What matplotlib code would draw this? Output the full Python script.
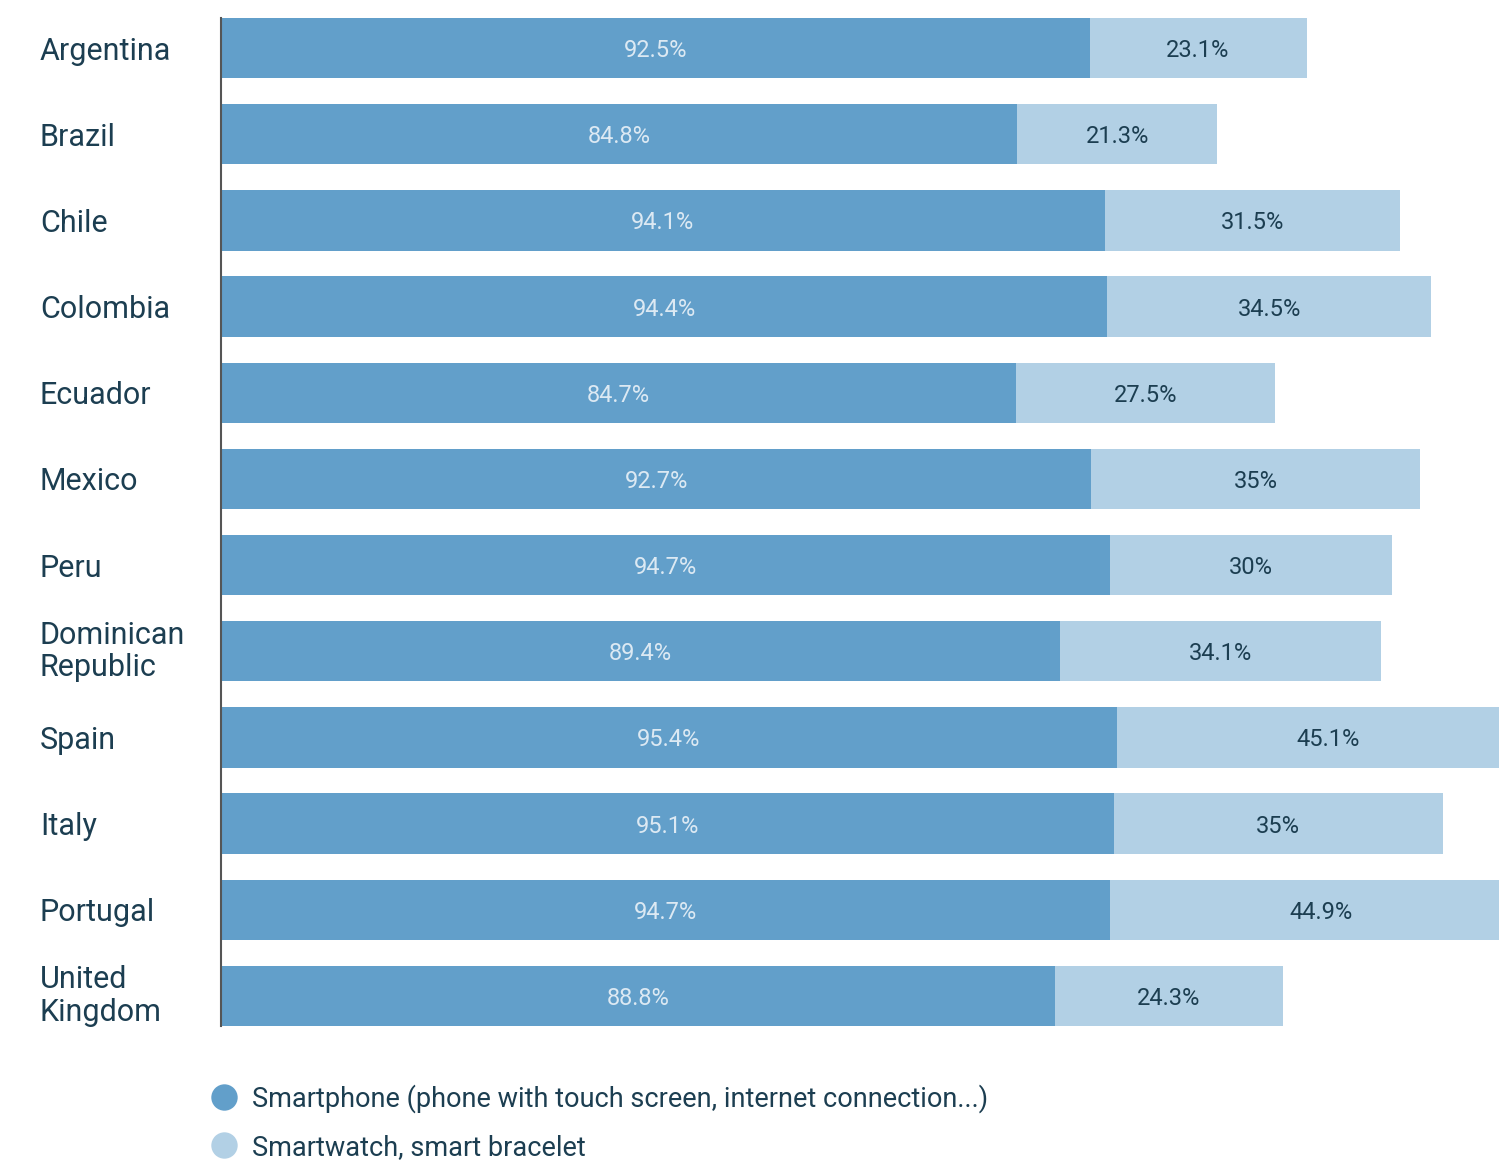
import matplotlib.pyplot as plt
import matplotlib.transforms as mtransforms
from matplotlib.lines import Line2D

countries = ["Argentina", "Brazil", "Chile", "Colombia", "Ecuador", "Mexico", "Peru",
             "Dominican\nRepublic", "Spain", "Italy", "Portugal", "United\nKingdom"]
smartphone = [92.5, 84.8, 94.1, 94.4, 84.7, 92.7, 94.7, 89.4, 95.4, 95.1, 94.7, 88.8]
smartwatch = [23.1, 21.3, 31.5, 34.5, 27.5, 35, 30, 34.1, 45.1, 35, 44.9, 24.3]
series_names = ["Smartphone (phone with touch screen, internet connection...)",
                "Smartwatch, smart bracelet"]

DARK = "#629fca"
LIGHT = "#b2d0e5"
TEXT = "#1c3e51"

plt.rcParams["font.family"] = ["Roboto", "DejaVu Sans"]

fig = plt.figure(figsize=(14.99, 11.62), dpi=100)
ax = fig.add_axes([221 / 1499, 1 - 1026 / 1162, 1 - 221 / 1499, 1008 / 1162])

y = list(range(len(countries)))
ax.barh(y, smartphone, height=0.7, color=DARK)
ax.barh(y, smartwatch, left=smartphone, height=0.7, color=LIGHT)

for i, (a, b) in enumerate(zip(smartphone, smartwatch)):
    ax.text(a / 2, i, f"{a:g}%", ha="center", va="center_baseline", fontsize=17,
            color="#dce9f3")
    ax.text(a + b / 2, i, f"{b:g}%", ha="center", va="center_baseline", fontsize=17,
            color=TEXT, clip_on=True)

ax.set_xlim(0, 136.1)
ax.set_ylim(len(countries) - 0.65, -0.35)
ax.set_xticks([])
ax.set_yticks([])
for side in ["top", "right", "bottom"]:
    ax.spines[side].set_visible(False)
ax.spines["left"].set_color("#555555")
ax.spines["left"].set_linewidth(1.5)

# country names sit flush left in the margin
trans = mtransforms.blended_transform_factory(fig.transFigure, ax.transData)
for i, name in enumerate(countries):
    va = "center" if "\n" in name else "center_baseline"
    ax.text(40 / 1499, i, name, transform=trans, ha="left", va=va,
            fontsize=22, color=TEXT, linespacing=1.15)

handles = [Line2D([], [], marker="o", linestyle="none", markersize=19,
                  markerfacecolor=c, markeredgecolor="none") for c in (DARK, LIGHT)]
fig.legend(handles, series_names, loc="upper left", bbox_to_anchor=(194 / 1499, 1 - 1071 / 1162),
           frameon=False, fontsize=19.5, labelcolor=TEXT, handletextpad=0.45,
           labelspacing=0.75, borderpad=0, handlelength=1.2)

fig.savefig("out.png", dpi=100)
